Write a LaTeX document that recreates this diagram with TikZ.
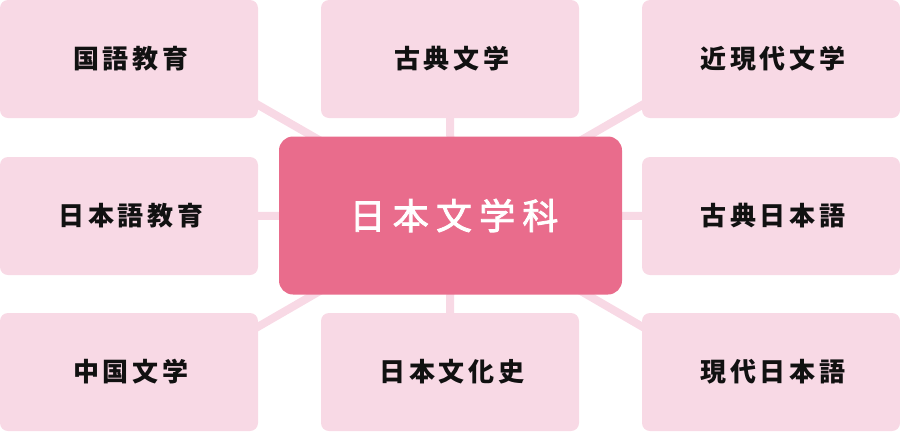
\documentclass[tikz,border=0pt]{standalone}
\usepackage{fontspec}
\newfontfamily\jpb{Noto Sans CJK JP}[LetterSpace=14]
\newfontfamily\jpc{Noto Sans CJK JP}[LetterSpace=20,FakeBold=2.2]
\usetikzlibrary{backgrounds}
\definecolor{lightpink}{HTML}{F8D9E5}
\definecolor{mainpink}{HTML}{E96C8C}
\definecolor{txt}{HTML}{111111}
\tikzset{
  subbox/.style={fill=lightpink, rounded corners=8pt, minimum width=258pt, minimum height=118pt, inner sep=0pt,
    text=txt, font=\jpb\bfseries\fontsize{26pt}{30pt}\selectfont},
  mainbox/.style={fill=mainpink, rounded corners=14pt, minimum width=343pt, minimum height=158pt, inner sep=0pt,
    text=white, font=\jpc\fontsize{36pt}{42pt}\selectfont},
  spoke/.style={draw=lightpink, line width=8pt}
}
\begin{document}
\begin{tikzpicture}[x=1pt,y=-1pt]
\useasboundingbox (0,0) rectangle (900,432);
\node[mainbox] (c) at (450.5,215.5) {日本文学科\kern-7pt};
\node[subbox] (tl) at (129,59) {国語教育\kern-3.6pt};
\node[subbox] (tm) at (450,59) {古典文学\kern-3.6pt};
\node[subbox] (tr) at (771,59) {近現代文学\kern-3.6pt};
\node[subbox] (ml) at (129,216) {日本語教育\kern-3.6pt};
\node[subbox] (mr) at (771,216) {古典日本語\kern-3.6pt};
\node[subbox] (bl) at (129,372) {中国文学\kern-3.6pt};
\node[subbox] (bm) at (450,372) {日本文化史\kern-3.6pt};
\node[subbox] (br) at (771,372) {現代日本語\kern-3.6pt};
\coordinate (dtl) at (146.9,41);
\coordinate (dtr) at (753.1,41);
\coordinate (dbl) at (146.9,391);
\coordinate (dbr) at (753.1,391);
\begin{scope}[on background layer]
\draw[spoke] (c.center) -- (dtl);
\draw[spoke] (c.center) -- (dtr);
\draw[spoke] (c.center) -- (dbl);
\draw[spoke] (c.center) -- (dbr);
\draw[spoke] (c.center) -- (tm.center);
\draw[spoke] (c.center) -- (bm.center);
\draw[spoke] (c.center) -- (ml.center);
\draw[spoke] (c.center) -- (mr.center);
\end{scope}
\end{tikzpicture}
\end{document}
